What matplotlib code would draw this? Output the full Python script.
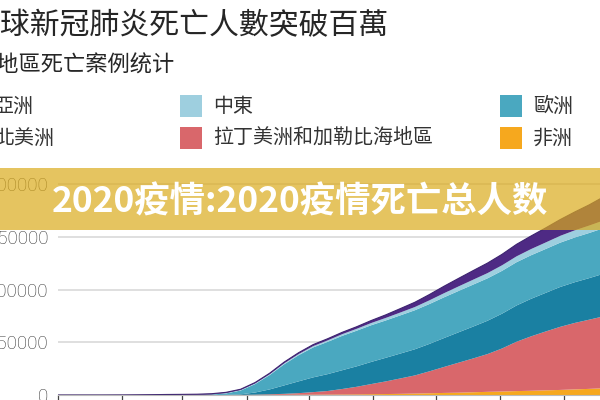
# -*- coding: utf-8 -*-
import pandas as pd
import matplotlib
matplotlib.use('Agg')
import matplotlib.pyplot as plt
import matplotlib.dates as mdates
from matplotlib.patches import Rectangle

# Dates: a few points in Jan/Feb, then weekly from Mar 1 to Sep 27, then Sep 28
early_dates = ['2020-01-01', '2020-01-22', '2020-02-01', '2020-02-08',
               '2020-02-15', '2020-02-22']
weekly_dates = pd.date_range('2020-03-01', '2020-09-27', freq='7D')
dates = pd.to_datetime(early_dates).append(weekly_dates).append(
    pd.to_datetime(['2020-09-28']))

# Cumulative deaths by region (thousands)
africa = [0, 0, 0, 0, 0, 0,
          0, 0, 0.003, 0.02, 0.1, 0.3, 0.6, 1.0, 1.3, 1.6, 2.0, 2.5, 3.0, 3.9,
          4.5, 5.5, 6.8, 8.2, 9.8, 11.0, 13.0, 15.0, 16.5, 18.5, 20, 22, 24,
          26.5, 29, 32, 34.5,
          35]
latin = [0, 0, 0, 0, 0, 0,
         0, 0, 0.005, 0.1, 0.5, 1.5, 2.8, 4.5, 7.5, 12, 17, 26, 36, 48,
         60, 73, 86, 104, 123, 142, 160, 179, 204, 234, 258, 279, 299,
         315, 328, 341, 350,
         352]
north_am = [0, 0, 0, 0, 0, 0,
            0, 0.02, 0.07, 0.5, 2.5, 10, 23, 40, 56, 70, 80, 89, 97, 105,
            112, 118, 124, 130, 137, 144, 151, 158, 165, 172, 178, 183, 189,
            193, 197, 202, 206,
            206.5]
europe = [0, 0, 0, 0, 0, 0,
          0.04, 0.4, 2.0, 7, 18, 40, 68, 100, 124, 142, 153, 163, 169, 174,
          177, 181, 185, 189, 193, 196, 199, 201, 203, 205, 206.5, 208, 210,
          212, 214, 216, 219.5,
          220]
mideast = [0, 0, 0, 0, 0, 0.005,
           0.05, 0.2, 0.7, 1.5, 2.3, 3.0, 3.8, 4.6, 5.4, 6.2, 7.0, 8.0, 9.0, 10.5,
           12, 13.6, 15.3, 17.5, 19.5, 21.5, 23.2, 24.8, 26.3, 27.8, 29.3, 30.8,
           32.3, 33.8, 35.2, 36.5, 37.8,
           38]
asia = [0, 0.017, 0.26, 0.8, 1.5, 2.4,
        2.9, 3.1, 3.3, 3.5, 3.8, 4.3, 5.0, 5.8, 6.5, 7.2, 7.9, 8.7, 9.8, 11.8,
        14.5, 18.5, 22.5, 27.5, 33, 38, 43, 47.5, 52, 57, 62, 69, 77,
        87, 98, 112, 130,
        133]

yticks = [0, 250000, 500000, 750000, 1000000]

title = '全球新冠肺炎死亡人數突破百萬'
subtitle = '各地區死亡案例统计'
banner = '2020疫情:2020疫情死亡总人数'

legend_names = ['亞洲', '中東', '歐洲', '北美洲', '拉丁美洲和加勒比海地區', '非洲']
c_asia, c_me, c_eu, c_na, c_la, c_af = '#4e2a84', '#9ecfdf', '#4aa8c0', '#1a80a2', '#d9676b', '#f6a81e'
legend_colors = [c_asia, c_me, c_eu, c_na, c_la, c_af]

cjk = ['Noto Sans CJK TC', 'DejaVu Sans']
W, H = 600, 400

def fx(px):
    return px / W

def fy(py):
    return 1 - py / H

fig = plt.figure(figsize=(6, 4), dpi=100)
fig.patch.set_facecolor('white')

# axes: Jan 1 at x=58px, 2.075 px/day; y=0 at 395px, 211px per million
ax = fig.add_axes([fx(58), 5 / H, 562.3 / W, 221.5 / H])
ys = [[v * 1000 for v in s] for s in (africa, latin, north_am, europe, mideast, asia)]
ax.stackplot(dates, *ys, colors=[c_af, c_la, c_na, c_eu, c_me, c_asia], lw=0)
total = [sum(v) for v in zip(*ys)]
ax.plot(dates, total, color='#3d2470', lw=0.8)

ax.set_xlim(pd.Timestamp('2020-01-01'), pd.Timestamp('2020-09-28'))
ax.set_ylim(0, 1050000)
ax.set_yticks(yticks)
ax.set_yticklabels([str(v) for v in yticks], family='Roboto', fontweight='light',
                   fontsize=13.5, color='#333333')
ax.tick_params(axis='y', length=0, pad=7)
ax.xaxis.set_major_locator(mdates.MonthLocator())
ax.tick_params(axis='x', direction='out', length=5, width=0.9, color='#444444',
               labelbottom=False)
ax.grid(axis='y', color='#d9d9d9', lw=1.2)
ax.set_axisbelow(True)
for s in ['top', 'right', 'left']:
    ax.spines[s].set_visible(False)
ax.spines['bottom'].set_color('#bbbbbb')
ax.patch.set_alpha(0)

# titles
fig.text(fx(-29), fy(26), title, family=cjk, fontsize=21.5, fontweight='medium',
         color='#262626', va='center', ha='left')
fig.text(fx(-26), fy(65), subtitle, family=cjk, fontsize=16, color='#262626',
         va='center', ha='left')

# legend in three columns, two rows
col_x = [-39, 180, 500]
row_y = [106, 138]
for i, (name, col) in enumerate(zip(legend_names, legend_colors)):
    r, c = divmod(i, 3)
    x0, y0 = col_x[c], row_y[r]
    fig.add_artist(Rectangle((fx(x0), fy(y0 + 11)), 22 / W, 22 / H,
                             transform=fig.transFigure, color=col, lw=0))
    fig.text(fx(x0 + 33), fy(y0), name, family=cjk, fontsize=14.4,
             color='#333333', va='center', ha='left')

# semi-transparent banner over the chart
fig.add_artist(Rectangle((0, fy(230)), 1, 62 / H, transform=fig.transFigure,
                         color='#dbab1c', alpha=0.7, lw=0, zorder=10))
fig.text(0.5, fy(202), banner, family=['Noto Sans CJK SC', 'DejaVu Sans'],
         fontsize=25.5, fontweight='bold', color='white', ha='center',
         va='center', zorder=11)

fig.savefig('out.png', dpi=100)
